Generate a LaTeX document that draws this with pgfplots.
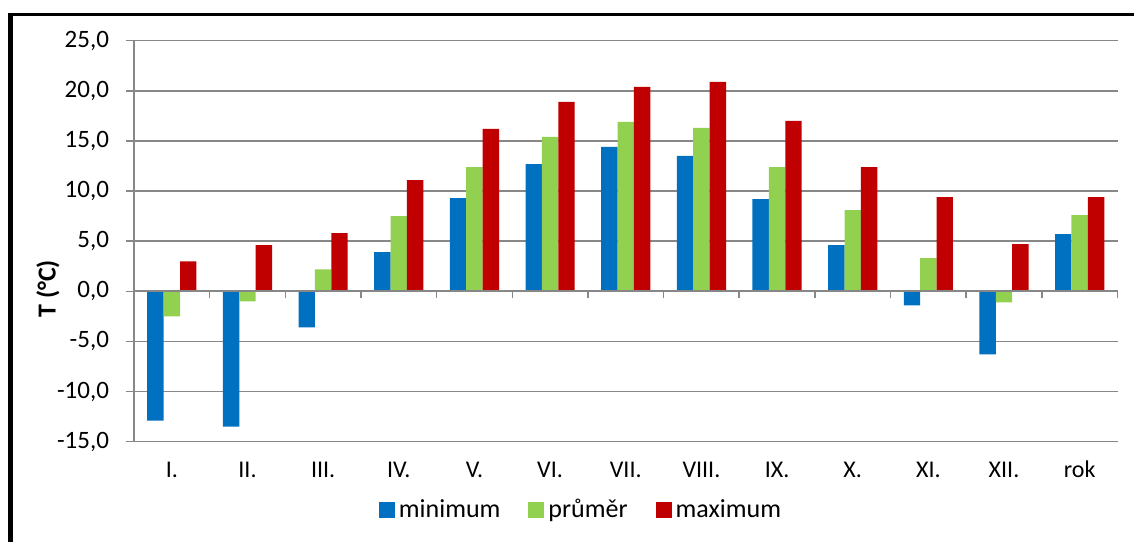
\documentclass[border=0pt]{standalone}
\usepackage{pgfplots}
\pgfplotsset{compat=1.18}
\usepackage{fontspec}
\setmainfont{Carlito}

\definecolor{cmin}{HTML}{0070C0}
\definecolor{cavg}{HTML}{92D050}
\definecolor{cmax}{HTML}{C00000}
\definecolor{gridgray}{HTML}{878787}

% mesicni teploty: minimum, prumer, maximum
\pgfplotstableread{
x  tmin  tavg  tmax
0  -12.9 -2.5  3.0
1  -13.5 -1.0  4.6
2  -3.6  2.2   5.8
3  3.9   7.5   11.1
4  9.3   12.4  16.2
5  12.7  15.4  18.9
6  14.4  16.9  20.4
7  13.5  16.3  20.9
8  9.2   12.4  17.0
9  4.6   8.1   12.4
10 -1.4  3.3   9.4
11 -6.3  -1.1  4.7
12 5.7   7.6   9.4
}\teploty

\pgfplotsset{
  sqlegend/.style={legend image code/.code={\fill[##1] (0pt,-4pt) rectangle (8pt,4pt);}},
}

\begin{document}
\begin{tikzpicture}
\pgfplotsset{every axis/.append style={
  scale only axis, width=491.75pt, height=200.5pt,
  xmin=-0.5, xmax=12.5, ymin=-15, ymax=25}}
\begin{axis}[
  ybar=0pt, bar width=8.2pt,
  axis x line*=bottom, axis y line*=left,
  x axis line style={draw=none},
  y axis line style={gridgray, line width=1pt, -},
  ytick={-15,-10,...,25},
  ymajorgrids, grid style={gridgray, line width=0.75pt},
  xtick={-0.5,0.5,...,12.5},
  x tick label as interval,
  xticklabels={I.,II.,III.,IV.,V.,VI.,VII.,VIII.,IX.,X.,XI.,XII.,rok},
  xtick style={draw=none},
  ytick style={gridgray, line width=0.75pt},
  tick align=outside, major tick length=4pt,
  /pgf/number format/fixed,
  /pgf/number format/fixed zerofill,
  /pgf/number format/precision=1,
  /pgf/number format/use comma,
  /pgf/number format/assume math mode=true,
  yticklabel style={font=\fontsize{12.5}{15}\selectfont, anchor=east, xshift=-5pt},
  xticklabel style={font=\fontsize{12}{14}\selectfont, anchor=base, yshift=-14pt},
  legend style={at={(0.4555,-0.170)}, anchor=center, draw=none, fill=none,
    font=\fontsize{13}{15}\selectfont,
    /tikz/every even column/.append style={column sep=12pt}},
  legend columns=3,
]
\addplot[fill=cmin, draw=none, sqlegend] table[x=x, y=tmin] {\teploty};
\addplot[fill=cavg, draw=none, sqlegend] table[x=x, y=tavg] {\teploty};
\addplot[fill=cmax, draw=none, sqlegend] table[x=x, y=tmax] {\teploty};
\legend{minimum, průměr, maximum}
\end{axis}
% vodorovna osa v nule s carkami mezi kategoriemi
\begin{axis}[
  axis x line*=middle, axis y line=none,
  xtick={-0.5,0.5,...,12.5}, xticklabels={},
  x axis line style={gridgray, line width=1pt, -},
  xtick style={gridgray, line width=0.75pt},
  tick align=outside, major tick length=3.5pt,
]
\end{axis}
% popis osy y
\node[rotate=90, font=\bfseries\fontsize{13}{15}\selectfont] at (-43pt,76.4pt) {T (°C)};
% ramecek
\draw[black, line width=1.5pt] (-63pt,213.6pt) -- (501pt,213.6pt);
\draw[black, line width=2.5pt] (-61.6pt,214.35pt) -- (-61.6pt,-50pt);
\pgfresetboundingbox
\useasboundingbox (-67pt,-49.65pt) rectangle (500pt,220.85pt);
\end{tikzpicture}
\end{document}
